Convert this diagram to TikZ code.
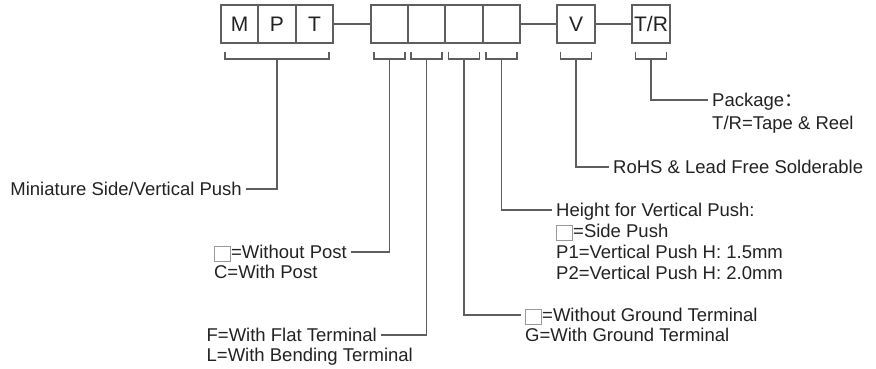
\documentclass[tikz,border=0pt]{standalone}
\usepackage{fontspec}
\setmainfont{Liberation Sans}
\newfontfamily\cjkf{Noto Sans CJK SC}
\usetikzlibrary{calc}
\definecolor{ln}{HTML}{5E5E5E}
\definecolor{tx}{HTML}{222222}
\newcommand\emptybox{\raisebox{-2.5pt}{{\color{black!40}\fboxrule=1pt\fboxsep=0pt\fbox{\rule{0pt}{14pt}\hspace{15pt}}}}}
\newcommand\bracketof[1]{%
  \draw[wire] ($(#1.south west)+(4,8)$) -- ++(0,7) -| ($(#1.south east)+(-4,8)$);
  \coordinate (s#1) at ($(#1.south)+(0,15)$);}
\begin{document}
\begin{tikzpicture}[x=1pt,y=-1pt,
  box/.style={draw=ln,line width=1.6pt,minimum width=37.5pt,minimum height=38pt,inner sep=0pt,
              font=\fontsize{21}{21}\selectfont,text=tx},
  wire/.style={draw=ln,line width=1.6pt},
  lbl/.style={font=\fontsize{18.5}{21}\selectfont,text=tx,inner xsep=4pt,inner ysep=0pt,
              text height=13pt,text depth=0pt}]
\useasboundingbox (0,0) rectangle (876,368);
% code boxes
\node[box] (M) at (239.5,24) {M};
\node[box] (P) at (277,24) {P};
\node[box] (T) at (314.5,24) {T};
\node[box] (A) at (389.5,24) {};
\node[box] (B) at (426.5,24) {};
\node[box] (C) at (464,24) {};
\node[box] (D) at (501.5,24) {};
\node[box] (V) at (576,24) {V};
\node[box] (R) at (651,24) {T/R};
\draw[wire] (T.east) -- (A.west);
\draw[wire] (D.east) -- (V.west);
\draw[wire] (V.east) -- (R.west);
% brackets
\draw[wire] ($(M.south west)+(5,8)$) -- ++(0,7) -| ($(T.south east)+(-5,8)$);
\coordinate (sM) at ($(M.south west)!0.5!(T.south east)+(0,15)$);
\bracketof{A}
\bracketof{B}
\bracketof{C}
\bracketof{D}
\bracketof{V}
\bracketof{R}
% labels
\node[lbl,anchor=east] (lM) at (246,189) {Miniature Side/Vertical Push};
\node[lbl,anchor=east] (lA1) at (351,252) {\emptybox=Without Post};
\node[lbl,anchor=west] (lA2) at ($(lA1.west)+(0,20)$) {C=With Post};
\node[lbl,anchor=east] (lB1) at (381,335) {F=With Flat Terminal};
\node[lbl,anchor=west] (lB2) at ($(lB1.west)+(0,20)$) {L=With Bending Terminal};
\node[lbl,anchor=west] (lC1) at (521,315) {\emptybox=Without Ground Terminal};
\node[lbl,anchor=west] (lC2) at ($(lC1.west)+(0,19.5)$) {G=With Ground Terminal};
\node[lbl,anchor=west] (lD1) at (552,210) {Height for Vertical Push:};
\node[lbl,anchor=west] (lD2) at ($(lD1.west)+(0,21)$) {\emptybox=Side Push};
\node[lbl,anchor=west] (lD3) at ($(lD2.west)+(0,21)$) {P1=Vertical Push H: 1.5mm};
\node[lbl,anchor=west] (lD4) at ($(lD3.west)+(0,21)$) {P2=Vertical Push H: 2.0mm};
\node[lbl,anchor=west] (lV) at (609,167) {RoHS \& Lead Free Solderable};
\node[lbl,anchor=west] (lR1) at (708,100) {Package{\cjkf ：}};
\node[lbl,anchor=west] (lR2) at ($(lR1.west)+(0,23)$) {T/R=Tape \& Reel};
% connectors
\draw[wire] (sM) |- (lM.east);
\draw[wire] (sA) |- (lA1.east);
\draw[wire] (sB) |- (lB1.east);
\draw[wire] (sC) |- (lC1.west);
\draw[wire] (sD) |- (lD1.west);
\draw[wire] (sV) |- (lV.west);
\draw[wire] (sR) |- (lR1.west);
\end{tikzpicture}
\end{document}
